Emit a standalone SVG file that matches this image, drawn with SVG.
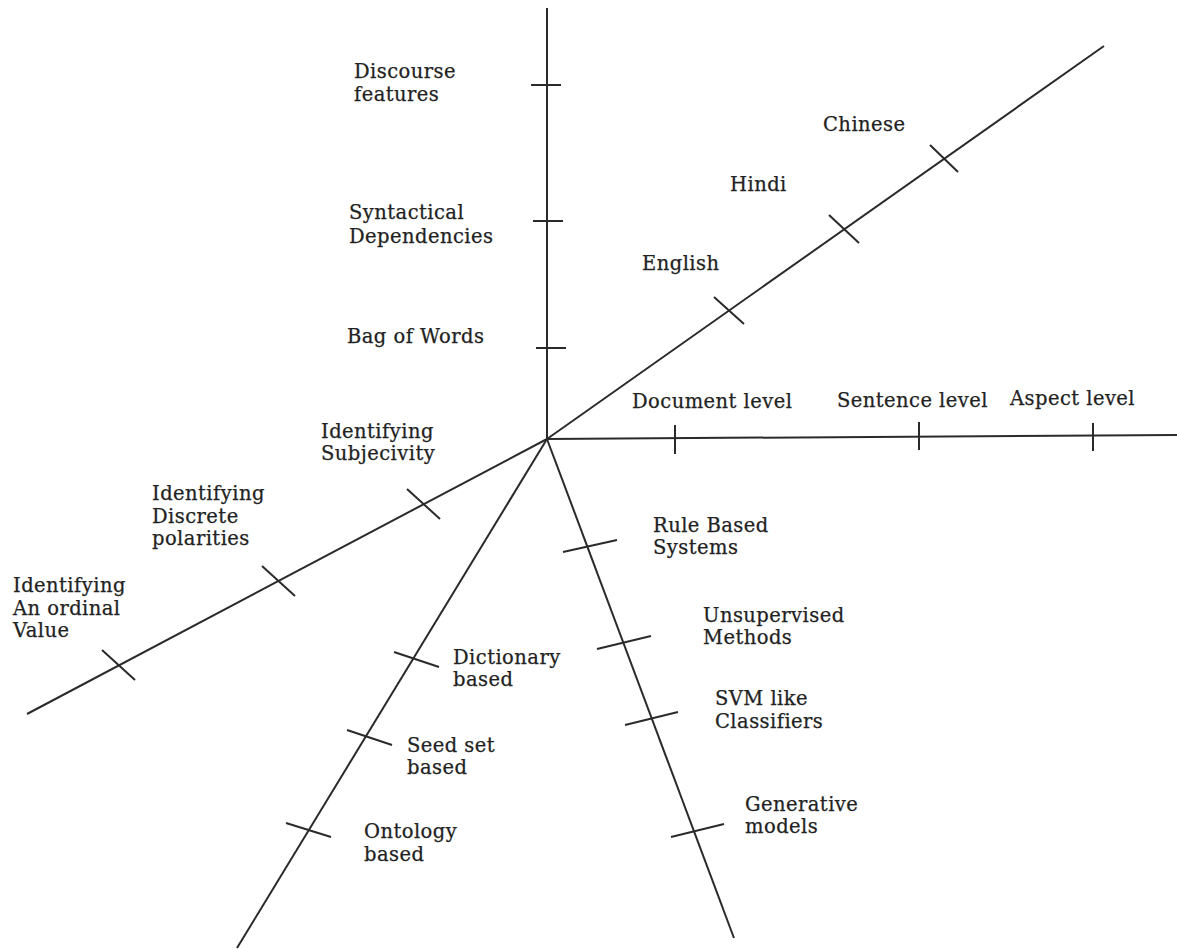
<svg xmlns="http://www.w3.org/2000/svg" width="1177" height="949" viewBox="0 0 1177 949">
<style>
.ax{stroke:#2a2a2a;stroke-width:2;fill:none;stroke-linecap:butt}
.tk{stroke:#2a2a2a;stroke-width:2;fill:none}
text{font-family:"DejaVu Serif","Liberation Serif",serif;font-size:19.5px;letter-spacing:0.45px;fill:#222;stroke:#222;stroke-width:0.25}
</style>
<rect width="1177" height="949" fill="#fff"/>
<g id="connectors">
<line class="ax" x1="547" y1="439" x2="547" y2="8"/>
<line class="ax" x1="547" y1="439" x2="1104" y2="46"/>
<line class="ax" x1="547" y1="439" x2="1177" y2="435"/>
<line class="ax" x1="547" y1="439" x2="734" y2="938"/>
<line class="ax" x1="547" y1="439" x2="237" y2="948"/>
<line class="ax" x1="547" y1="439" x2="27" y2="714"/>
</g>
<g id="features-axis">
<g id="discourse"><line class="tk" x1="531" y1="85" x2="561" y2="85"/><text x="354" y="78">Discourse</text><text x="354" y="101">features</text></g>
<g id="syntactical"><line class="tk" x1="533" y1="221" x2="563" y2="221"/><text x="349" y="219">Syntactical</text><text x="349" y="243">Dependencies</text></g>
<g id="bagofwords"><line class="tk" x1="536" y1="348" x2="566" y2="348"/><text x="347" y="343">Bag of Words</text></g>
</g>
<g id="language-axis">
<g id="english"><line class="tk" x1="714" y1="297" x2="744" y2="324"/><text x="642" y="270">English</text></g>
<g id="hindi"><line class="tk" x1="829" y1="215" x2="859" y2="243"/><text x="730" y="191">Hindi</text></g>
<g id="chinese"><line class="tk" x1="930" y1="145" x2="958" y2="172"/><text x="823" y="131">Chinese</text></g>
</g>
<g id="level-axis">
<g id="document"><line class="tk" x1="675" y1="425" x2="675" y2="454"/><text x="632" y="408">Document level</text></g>
<g id="sentence"><line class="tk" x1="919" y1="422" x2="919" y2="450"/><text x="837" y="407">Sentence level</text></g>
<g id="aspect"><line class="tk" x1="1093" y1="423" x2="1093" y2="451"/><text x="1010" y="405">Aspect level</text></g>
</g>
<g id="method-axis">
<g id="rule"><line class="tk" x1="563" y1="552" x2="617" y2="540"/><text x="653" y="532">Rule Based</text><text x="653" y="554">Systems</text></g>
<g id="unsupervised"><line class="tk" x1="597" y1="649" x2="651" y2="636"/><text x="703" y="622">Unsupervised</text><text x="703" y="644">Methods</text></g>
<g id="svm"><line class="tk" x1="625" y1="725" x2="678" y2="712"/><text x="715" y="705">SVM like</text><text x="715" y="728">Classifiers</text></g>
<g id="generative"><line class="tk" x1="671" y1="837" x2="724" y2="824"/><text x="745" y="811">Generative</text><text x="745" y="833">models</text></g>
</g>
<g id="lexicon-axis">
<g id="dictionary"><line class="tk" x1="394" y1="652" x2="439" y2="667"/><text x="453" y="664">Dictionary</text><text x="453" y="686">based</text></g>
<g id="seed"><line class="tk" x1="347" y1="730" x2="392" y2="745"/><text x="407" y="752">Seed set</text><text x="407" y="774">based</text></g>
<g id="ontology"><line class="tk" x1="286" y1="823" x2="331" y2="837"/><text x="364" y="838">Ontology</text><text x="364" y="861">based</text></g>
</g>
<g id="task-axis">
<g id="subjectivity"><line class="tk" x1="407" y1="489" x2="440" y2="519"/><text x="321" y="438">Identifying</text><text x="321" y="460">Subjecivity</text></g>
<g id="discrete"><line class="tk" x1="262" y1="566" x2="295" y2="596"/><text x="152" y="500">Identifying</text><text x="152" y="523">Discrete</text><text x="152" y="545">polarities</text></g>
<g id="ordinal"><line class="tk" x1="102" y1="650" x2="135" y2="680"/><text x="13" y="592">Identifying</text><text x="13" y="615">An ordinal</text><text x="13" y="637">Value</text></g>
</g>
</svg>
